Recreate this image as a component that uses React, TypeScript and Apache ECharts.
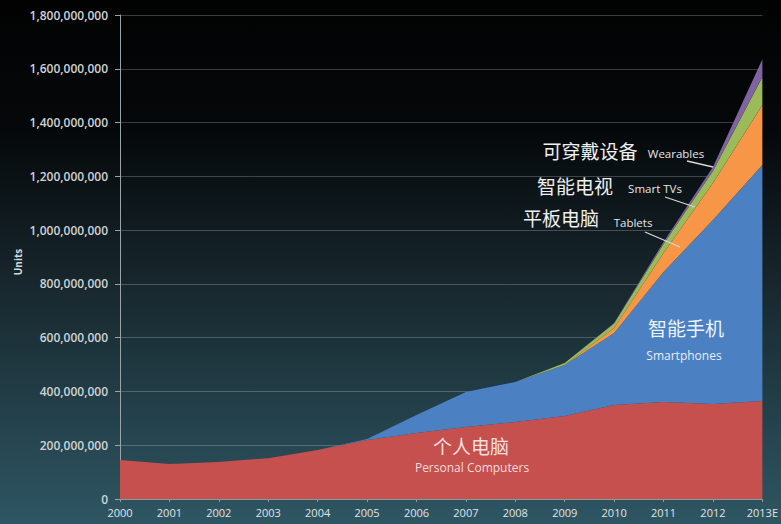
import React, { useEffect, useRef } from "react";
import * as echarts from "echarts";

const years = ["2000", "2001", "2002", "2003", "2004", "2005", "2006", "2007", "2008", "2009", "2010", "2011", "2012", "2013E"];
// values in millions of units
const pcs = [145, 130, 138, 152, 182, 219, 245, 268, 286, 309, 350, 361, 353, 364];
const smartphones = [0, 0, 0, 0, 0, 4, 67, 130, 149, 189, 267, 483, 685, 878];
const tablets = [0, 0, 0, 0, 0, 0, 0, 0, 0, 0, 19, 71, 137, 223];
const smartTVs = [0, 0, 0, 0, 0, 0, 0, 0, 0, 8, 17, 33, 45, 104];
const wearables = [0, 0, 0, 0, 0, 0, 0, 0, 0, 0, 2, 8, 15, 66];
const yTicks = [0, 200000000, 400000000, 600000000, 800000000, 1000000000, 1200000000, 1400000000, 1600000000, 1800000000];

const M = 1000000;

export default function App() {
  const ref = useRef<HTMLDivElement>(null);
  useEffect(() => {
    if (!ref.current) return;
    const chart = echarts.init(ref.current, undefined, { renderer: "svg" });
    const mk = (name: string, data: number[], color: string) => ({
      name,
      type: "line",
      stack: "total",
      data: data.map((v) => v * M),
      symbol: "none",
      showSymbol: false,
      lineStyle: { width: 0 },
      areaStyle: { color, opacity: 1 },
      itemStyle: { color },
      z: 2,
    });
    const cjk = '"Noto Sans CJK SC", "Noto Sans", sans-serif';
    const lat = '"Open Sans", "Noto Sans", sans-serif';
    const label = (text: string, x: number, y: number, size: number, fill: string, font: string) => ({
      type: "text",
      x,
      y,
      style: { text, fill, font: `${size}px ${font}`, textAlign: "center", textVerticalAlign: "middle" },
      z: 10,
    });
    const pointer = (x1: number, y1: number, x2: number, y2: number) => ({
      type: "line",
      shape: { x1, y1, x2, y2 },
      style: { stroke: "#d8d8d8", lineWidth: 1.3 },
      z: 10,
    });
    chart.setOption({
      animation: false,
      backgroundColor: new echarts.graphic.LinearGradient(0, 0, 0, 1, [
        { offset: 0, color: "#020202" },
        { offset: 0.25, color: "#05080a" },
        { offset: 0.55, color: "#18282e" },
        { offset: 1, color: "#2e5663" },
      ]),
      grid: { left: 120, right: 18, top: 15, bottom: 25 },
      xAxis: {
        type: "category",
        data: years,
        boundaryGap: false,
        axisLine: { show: true, lineStyle: { color: "#8a9aa0", width: 1 } },
        axisTick: { show: true, length: 3, lineStyle: { color: "#8a9aa0" } },
        axisLabel: { color: "#e0e4e6", fontSize: 11, fontFamily: lat, margin: 8, interval: 0 },
        splitLine: { show: false },
      },
      yAxis: {
        type: "value",
        min: yTicks[0],
        max: yTicks[yTicks.length - 1],
        interval: yTicks[1] - yTicks[0],
        axisLine: { show: true, lineStyle: { color: "#9aa4a8", width: 1 } },
        axisTick: { show: true, length: 5, lineStyle: { color: "#9aa4a8" } },
        axisLabel: {
          color: "#cfd3d5",
          fontSize: 12,
          fontWeight: 600,
          fontFamily: lat,
          margin: 12,
          formatter: (v: number) => v.toLocaleString("en-US"),
        },
        splitLine: { show: true, lineStyle: { color: "rgba(200,210,215,0.28)", width: 1 } },
      },
      series: [
        mk("Personal Computers", pcs, "#c6504e"),
        mk("Smartphones", smartphones, "#4b80c2"),
        mk("Tablets", tablets, "#f79646"),
        mk("Smart TVs", smartTVs, "#9bbb59"),
        mk("Wearables", wearables, "#8064a2"),
      ],
      graphic: [
        {
          type: "text",
          x: 18,
          y: 262,
          rotation: Math.PI / 2,
          style: { text: "Units", fill: "#d4d8da", font: `bold 10px ${lat}`, textAlign: "center", textVerticalAlign: "middle" },
          z: 10,
        },
        label("个人电脑", 471, 445, 19, "#f6dede", cjk),
        label("Personal Computers", 472, 467, 12, "#f3dcdc", lat),
        label("智能手机", 686, 327, 19, "#eef3fb", cjk),
        label("Smartphones", 684, 355, 12, "#e8eef8", lat),
        label("平板电脑", 561, 217, 19, "#f0f0f0", cjk),
        label("Tablets", 633, 222, 11.5, "#e6e6e6", lat),
        pointer(645, 232, 680, 247),
        label("智能电视", 575, 185, 19, "#f0f0f0", cjk),
        label("Smart TVs", 655, 188, 11.5, "#e6e6e6", lat),
        pointer(665, 197, 695, 207),
        label("可穿戴设备", 590, 150, 19, "#f0f0f0", cjk),
        label("Wearables", 676, 153, 11.5, "#e6e6e6", lat),
        pointer(687, 161, 713, 167),
      ],
    });
    return () => chart.dispose();
  }, []);
  return <div ref={ref} style={{ position: "fixed", left: 0, top: 0, width: 781, height: 524 }} />;
}
